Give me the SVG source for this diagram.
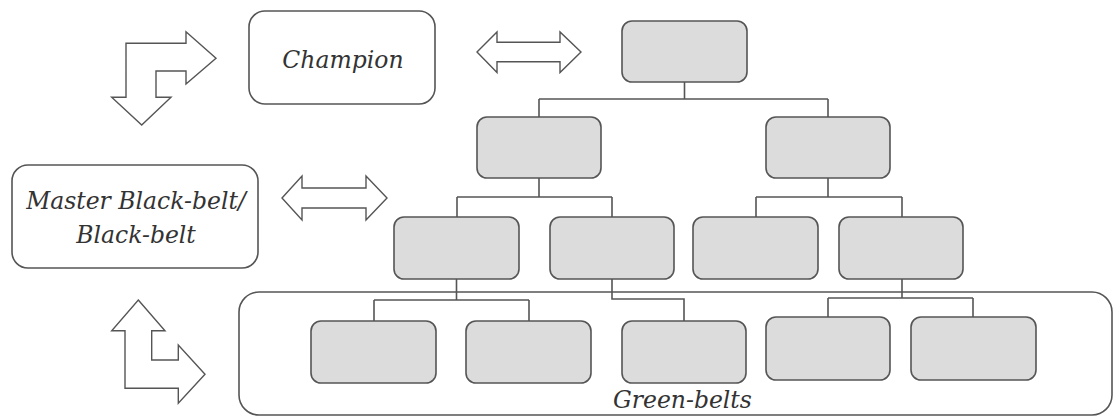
<svg xmlns="http://www.w3.org/2000/svg" width="1113" height="417" viewBox="0 0 1113 417">
<style>
.box{fill:#fff;stroke:#555;stroke-width:1.6}
.node{fill:#dddcdd;stroke:#555;stroke-width:1.6}
.arr{fill:#fff;stroke:#555;stroke-width:1.4;stroke-linejoin:miter}
.con{fill:none;stroke:#555;stroke-width:1.6}
.lbl{font-family:"DejaVu Serif",serif;font-style:italic;font-size:23.5px;fill:#333}
</style>
<rect width="1113" height="417" fill="#fff"/>
<g id="greenbelts">
<rect class="box" x="239" y="292" width="873" height="123" rx="20"/>
<text class="lbl" x="613" y="408">Green-belts</text>
</g>
<g id="connectors">
<path class="con" d="M684.5 82V99M539 99H828M539 99V117M828 99V117"/>
<path class="con" d="M539 178V197M457 197H612M457 197V217M612 197V217"/>
<path class="con" d="M828 178V197M756 197H902M756 197V217M902 197V217"/>
<path class="con" d="M456.5 279V300M374 300H529M374 300V321M529 300V321"/>
<path class="con" d="M612 279V299H684V321"/>
<path class="con" d="M902 279V298M828 298H973M828 298V317M973 298V317"/>
</g>
<g id="champion">
<rect class="box" x="249" y="11" width="186" height="93" rx="16"/>
<text class="lbl" x="343" y="68" text-anchor="middle">Champion</text>
</g>
<g id="master">
<rect class="box" x="12" y="165" width="246" height="103" rx="16"/>
<text class="lbl" x="136" y="209" text-anchor="middle">Master Black-belt/</text>
<text class="lbl" x="136" y="243" text-anchor="middle">Black-belt</text>
</g>
<g id="arrows">
<polygon class="arr" points="126,43.3 186,43.3 186,31.7 216,58.3 186,84 186,71 156,71 156,97.3 171,97.3 141.7,125 111.7,97.3 126,97.3"/>
<polygon class="arr" points="138.3,300 165,330.7 151.7,330.7 151.7,360 178.3,360 178.3,345 205,374.3 178.3,403.3 178.3,388.3 125,388.3 125,330.7 111.7,330.7"/>
<polygon class="arr" points="477,52 497,32 497,42.3 560,42.3 560,32 581,52 560,72.5 560,61.7 497,61.7 497,72.5"/>
<polygon class="arr" points="282,198 302,176 302,188 366,188 366,176 387,198 366,220 366,208 302,208 302,220"/>
</g>
<g id="n1"><rect class="node" x="622" y="21" width="125" height="61" rx="10"/></g>
<g id="n2a"><rect class="node" x="477" y="117" width="124" height="61" rx="10"/></g>
<g id="n2b"><rect class="node" x="766" y="117" width="124" height="61" rx="10"/></g>
<g id="n3a"><rect class="node" x="394" y="217" width="125" height="62" rx="10"/></g>
<g id="n3b"><rect class="node" x="550" y="217" width="124" height="62" rx="10"/></g>
<g id="n3c"><rect class="node" x="693" y="217" width="125" height="62" rx="10"/></g>
<g id="n3d"><rect class="node" x="839" y="217" width="124" height="62" rx="10"/></g>
<g id="n4a"><rect class="node" x="311" y="321" width="125" height="62" rx="10"/></g>
<g id="n4b"><rect class="node" x="466" y="321" width="125" height="62" rx="10"/></g>
<g id="n4c"><rect class="node" x="622" y="321" width="124" height="62" rx="10"/></g>
<g id="n4d"><rect class="node" x="766" y="317" width="124" height="63" rx="10"/></g>
<g id="n4e"><rect class="node" x="911" y="317" width="125" height="63" rx="10"/></g>
</svg>
